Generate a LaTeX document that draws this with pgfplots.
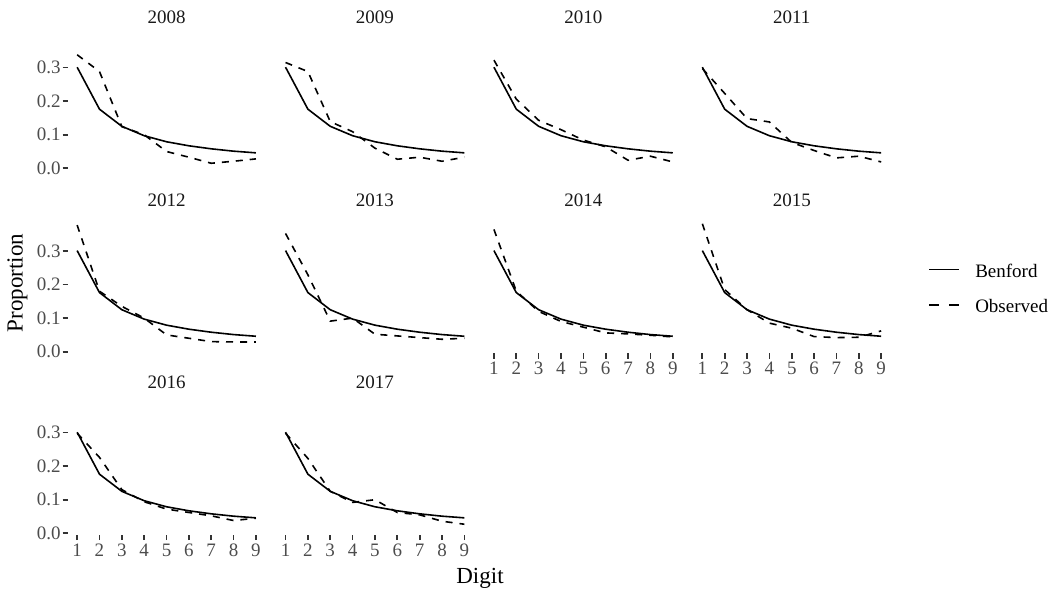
\documentclass[border=0pt]{standalone}
\usepackage{pgfplots}
\pgfplotsset{compat=1.18}
\usepackage{pgfplotstable}
\usepackage{fontspec}
\setmainfont{Liberation Serif}
\definecolor{tickgrey}{gray}{0.3}
\definecolor{tickcol}{gray}{0.2}
\definecolor{stripgrey}{gray}{0.1}

\pgfplotstableread{
d benford y2008 y2009 y2010 y2011 y2012 y2013 y2014 y2015 y2016 y2017
1 0.301 0.338 0.315 0.322 0.297 0.377 0.352 0.364 0.381 0.298 0.298
2 0.176 0.288 0.288 0.206 0.223 0.180 0.229 0.180 0.185 0.226 0.223
3 0.125 0.124 0.139 0.143 0.148 0.135 0.091 0.120 0.125 0.130 0.125
4 0.097 0.100 0.109 0.115 0.138 0.100 0.100 0.090 0.085 0.094 0.092
5 0.079 0.050 0.060 0.084 0.077 0.050 0.052 0.073 0.070 0.072 0.100
6 0.067 0.033 0.027 0.064 0.053 0.040 0.047 0.056 0.045 0.062 0.062
7 0.058 0.015 0.033 0.024 0.031 0.030 0.042 0.053 0.042 0.052 0.055
8 0.051 0.021 0.021 0.036 0.036 0.029 0.037 0.049 0.043 0.038 0.036
9 0.046 0.028 0.033 0.019 0.019 0.029 0.040 0.044 0.062 0.045 0.027
}\data

\pgfplotsset{
  panel/.style={
    scale only axis, width=196.7pt, height=135.7pt,
    xmin=0.6, xmax=9.4, ymin=-0.004, ymax=0.40,
    axis line style={draw=none},
    tick align=outside, major tick length=5.5pt,
    every tick/.style={tickcol, line width=1.7pt},
    xtick=\empty, ytick=\empty,
    xtick pos=bottom, ytick pos=left,
    /pgf/number format/assume math mode=true,
    ticklabel style={font=\fontsize{19}{19}\selectfont, text=tickgrey},
    xticklabel style={inner sep=3.5pt},
    yticklabel style={inner sep=2pt},
    title style={font=\fontsize{19}{19}\selectfont, text=stripgrey,
      at={(0.5,1)}, anchor=center, yshift=11pt},
    clip=false,
  },
  xlab/.style={xtick={1,2,3,4,5,6,7,8,9}},
  ylab/.style={ytick={0,0.1,0.2,0.3}, yticklabels={0.0,0.1,0.2,0.3}},
  benford/.style={black, line width=1.6pt, line join=round, no markers},
  observed/.style={black, line width=1.6pt, dash pattern=on 7pt off 7pt, no markers},
}

\newcommand{\panel}[5]{%
  \begin{axis}[panel, at={(#1pt,#2pt)}, anchor=south west, title={#4}, #5]
    \addplot[benford] table[x=d,y=benford]{\data};
    \addplot[observed] table[x=d,y=#3]{\data};
  \end{axis}}

\begin{document}
\begin{tikzpicture}
\useasboundingbox (0,0) rectangle (1055pt,589pt);
% row 1
\panel{68.2}{419.35}{y2008}{2008}{ylab}
\panel{276.6}{419.35}{y2009}{2009}{}
\panel{485.0}{419.35}{y2010}{2010}{}
\panel{693.4}{419.35}{y2011}{2011}{}
% row 2
\panel{68.2}{235.95}{y2012}{2012}{ylab}
\panel{276.6}{235.95}{y2013}{2013}{}
\panel{485.0}{235.95}{y2014}{2014}{xlab}
\begin{axis}[panel, at={(693.4pt,235.95pt)}, anchor=south west, title={2015}, xlab,
  legend cell align=left,
  legend image code/.code={\draw[#1] (0pt,3pt) -- (30pt,3pt);},
  legend style={at={(1.195,0.461)}, anchor=west, draw=none, fill=none,
    inner sep=0pt, font=\fontsize{19}{19}\selectfont, row sep=18.6pt,
    nodes={inner sep=0pt, text height=13pt, text depth=4pt},
    /tikz/every odd column/.append style={column sep=15pt}}]
  \addplot[benford, forget plot] table[x=d,y=benford]{\data};
  \addplot[observed, forget plot] table[x=d,y=y2015]{\data};
  \addlegendimage{black, line width=1.6pt}
  \addlegendentry{Benford}
  \addlegendimage{black, line width=1.6pt, dash pattern=on 10pt off 10pt}
  \addlegendentry{Observed}
\end{axis}
% row 3
\panel{68.2}{54.35}{y2016}{2016}{xlab,ylab}
\panel{276.6}{54.35}{y2017}{2017}{xlab}
% axis titles
\node[rotate=90, font=\fontsize{23}{23}\selectfont] at (17.5pt,306pt) {Proportion};
\node[anchor=base, font=\fontsize{23}{23}\selectfont] at (480pt,5pt) {Digit};
\end{tikzpicture}
\end{document}
